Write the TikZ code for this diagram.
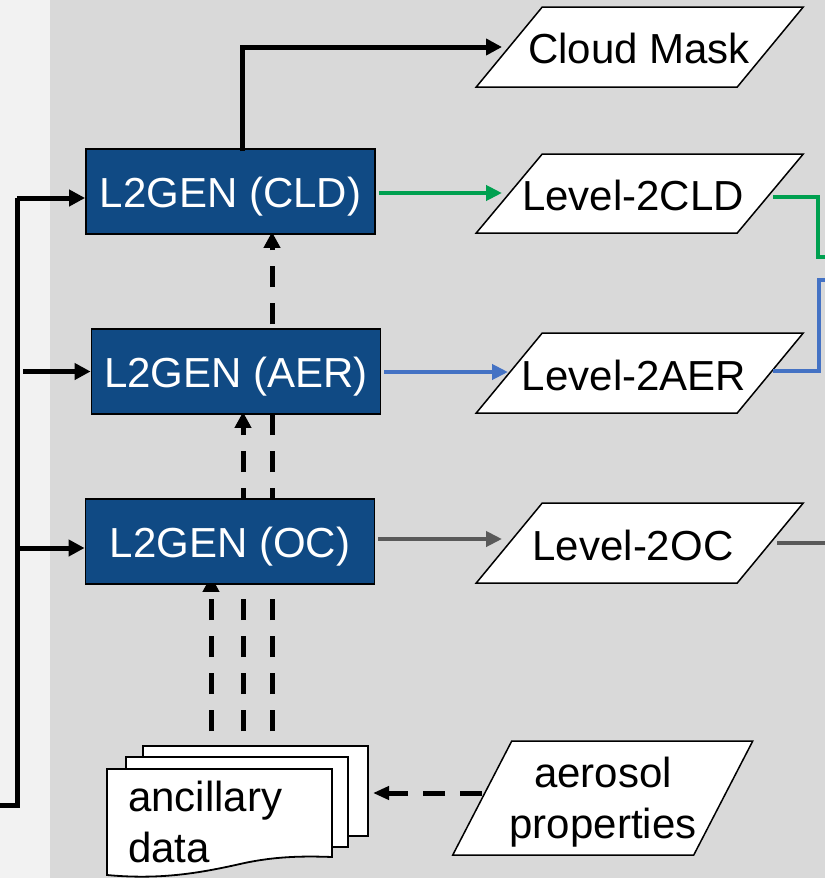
\documentclass[tikz,border=0pt]{standalone}
\usepackage{fontspec}
\setmainfont{Liberation Sans}
\usetikzlibrary{arrows.meta}
\definecolor{bgmain}{HTML}{D9D9D9}
\definecolor{bgstrip}{HTML}{F2F2F2}
\definecolor{boxblue}{HTML}{104A84}
\definecolor{lgreen}{RGB}{0,160,80}
\definecolor{lblue}{HTML}{4472C4}
\definecolor{lgray}{HTML}{595959}
\pgfdeclarelayer{back}
\pgfdeclarelayer{mid}
\pgfsetlayers{back,mid,main}
\newcommand{\paragram}[5]{%
  \draw[line width=1.5pt, fill=white, line join=miter]
    (#1+#5-#3, #2-#4) -- (#1+#5+#3, #2-#4) -- (#1-#5+#3, #2+#4) -- (#1-#5-#3, #2+#4) -- cycle;}
\begin{document}
\begin{tikzpicture}[x=1pt,y=-1pt,
  font=\fontsize{42}{51}\selectfont,
  genbox/.style={draw=black, line width=1.8pt, fill=boxblue, text=white,
    minimum width=289pt, minimum height=85pt, inner sep=0pt,
    text height=31pt, text depth=0pt},
  ptext/.style={inner sep=0pt, text height=31pt, text depth=0pt},
  blkarr/.style={line width=5pt, draw=black, -{Triangle[length=16pt,width=16pt]}},
  blkline/.style={line width=5pt, draw=black},
  colarr/.style={line width=4.5pt, draw=#1, -{Triangle[length=16pt,width=15pt]}},
  colline/.style={line width=4.5pt, draw=#1},
  dasharr/.style={line width=5pt, draw=black, dash pattern=on 21pt off 16pt,
    -{Triangle[length=16pt,width=16pt]}},
  dasharrh/.style={line width=5pt, draw=black, dash pattern=on 22pt off 15pt,
    -{Triangle[length=16pt,width=13pt]}},
  page/.style={draw=black, line width=1.8pt, fill=white}
]
\useasboundingbox (0,0) rectangle (825,878);
\begin{pgfonlayer}{back}
  \fill[bgstrip] (0,0) rectangle (50,878);
  \fill[bgmain] (50,0) rectangle (825,878);
\end{pgfonlayer}

% processing boxes
\node[genbox] (cldbox) at (230.5,191.5) {L2GEN (CLD)};
\node[genbox] (aerbox) at (236,371.5) {L2GEN (AER)};
\node[genbox] (ocbox) at (230,541.5) {L2GEN (OC)};

% output parallelograms
\paragram{639.75}{47}{130.5}{40}{33}
\node[ptext] (cm) at (639,47.5) {Cloud Mask};
\paragram{639.75}{193.5}{130.5}{39.5}{33}
\node[ptext] (l2cld) at (633,194.5) {Level-2CLD};
\paragram{639.75}{373}{130.5}{40}{33}
\node[ptext] (l2aer) at (634,374.5) {Level-2AER};
\paragram{639.75}{543}{130.5}{40}{33}
\node[ptext] (l2oc) at (633,544.5) {Level-2OC};
\paragram{602.75}{798}{120.5}{57}{29.5}
\node[align=center, anchor=base, inner sep=0pt] (aerosol) at (603,838) {aerosol\\properties};

% ancillary data (stacked documents)
\draw[page] (143,746) rectangle (368,836);
\draw[page] (126,757) rectangle (348,847);
\draw[page] (107,769) -- (332,769) -- (332,857)
  .. controls (305,856) and (275,856) .. (240,864)
  .. controls (200,873) and (160,880) .. (107,875) -- cycle;
\node[align=left, anchor=base west, inner sep=0pt] (anc) at (128,862) {ancillary\\data};

% coordinates for connector ends
\coordinate (feedin) at (0,805);
\coordinate (feedtop) at (17,198);
\coordinate (aerfeed) at (23,371.5);
\coordinate (ocfeed) at (17,548);
\coordinate (cmtip) at (502,47);
\coordinate (gtip) at (502,193);
\coordinate (btip) at (508,372);
\coordinate (ytip) at (502,539);
\coordinate (gout) at (773,197);
\coordinate (gend) at (825,257);
\coordinate (bout) at (773,371);
\coordinate (bend) at (825,280);
\coordinate (yout) at (777,543);
\coordinate (yend) at (825,543);
\coordinate (d1) at (211,731);
\coordinate (d2) at (243,731);
\coordinate (d3) at (272,731);
\coordinate (aerostart) at (482,793);
\coordinate (anctip) at (373,793);

% input feed
\draw[blkline] (feedin) -- (17,805) -- (feedtop);
\draw[blkarr] (feedtop) -- ([yshift=-6.5pt]cldbox.west);
\draw[blkarr] (aerfeed) -- (aerbox.west);
\draw[blkarr] (ocfeed) -- ([yshift=-6.5pt]ocbox.west);

% cloud mask
\draw[blkarr] ([xshift=11.5pt,yshift=-3pt]cldbox.north) |- (cmtip);

% product arrows
\draw[colarr=lgreen] ([xshift=3pt,yshift=-1.5pt]cldbox.east) -- (gtip);
\draw[colarr=lblue] ([xshift=3pt,yshift=-0.5pt]aerbox.east) -- (btip);
\draw[colarr=lgray] ([xshift=3pt,yshift=2.5pt]ocbox.east) -- (ytip);

% outputs leaving to the right
\draw[colline=lgreen] (gout) -- (818,197) -- (818,257) -- (gend);
\draw[colline=lblue] (bout) -- (819,371) -- (819,280) -- (bend);
\draw[colline=lgray] (yout) -- (yend);

% ancillary inputs (dashed)
\begin{pgfonlayer}{mid}
  \draw[dasharr, shorten >=-9pt] (d1) -- (d1 |- ocbox.south);
  \draw[dasharr, shorten >=-3pt] (d2) -- (d2 |- aerbox.south);
  \draw[dasharr, shorten >=-3pt] (d3) -- (d3 |- cldbox.south);
\end{pgfonlayer}
\draw[dasharrh] (aerostart) -- (anctip);
\end{tikzpicture}
\end{document}
